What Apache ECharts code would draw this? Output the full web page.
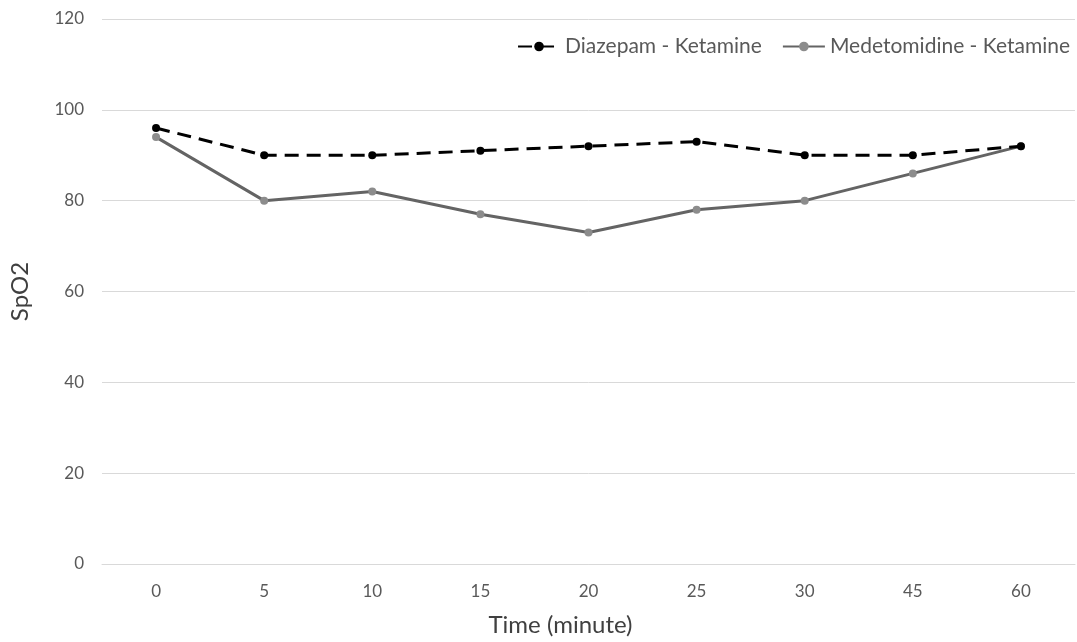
<!DOCTYPE html>
<html>
<head>
<meta charset="utf-8">
<script src="https://cdn.jsdelivr.net/npm/echarts@6/dist/echarts.min.js"></script>
<style>
html,body{margin:0;padding:0;background:#fff;}
#chart{width:1077px;height:642px;}
</style>
</head>
<body>
<div id="chart"></div>
<script>
// Time points (minutes) and SpO2 readings for each anaesthetic protocol
const timePoints = ['0', '5', '10', '15', '20', '25', '30', '45', '60'];
const diazepamKetamine = [96, 90, 90, 91, 92, 93, 90, 90, 92];
const medetomidineKetamine = [94, 80, 82, 77, 73, 78, 80, 86, 92];
const seriesNames = ['Diazepam - Ketamine', 'Medetomidine - Ketamine'];

const fontFamily = 'Lato, "Open Sans", sans-serif';
const chart = echarts.init(document.getElementById('chart'));

chart.setOption({
  animation: false,
  backgroundColor: '#fff',
  textStyle: { fontFamily: fontFamily },
  legend: {
    top: 31,
    right: 2,
    itemWidth: 42,
    itemHeight: 12,
    itemGap: 20,
    textStyle: { color: '#595959', fontSize: 21, fontFamily: fontFamily },
    data: seriesNames
  },
  grid: { left: 101, right: 2, top: 19, bottom: 76 },
  xAxis: {
    type: 'category',
    data: timePoints,
    boundaryGap: true,
    name: 'Time (minute)',
    nameLocation: 'middle',
    nameGap: 49,
    // title sits a little left of the plot centre
    nameTextStyle: { color: '#404040', fontSize: 24, fontFamily: fontFamily, padding: [0, 56, 0, 0] },
    axisLine: { lineStyle: { color: '#d9d9d9', width: 1 } },
    axisTick: { show: false },
    axisLabel: { color: '#595959', fontSize: 17, margin: 19, fontFamily: fontFamily }
  },
  yAxis: {
    type: 'value',
    min: 0,
    max: 120,
    interval: 20,
    name: 'SpO2',
    nameLocation: 'middle',
    nameGap: 70,
    nameTextStyle: { color: '#404040', fontSize: 24, fontFamily: fontFamily },
    axisLine: { show: false },
    axisTick: { show: false },
    axisLabel: { color: '#595959', fontSize: 17, margin: 18, fontFamily: fontFamily },
    splitLine: { lineStyle: { color: '#d9d9d9', width: 1 } }
  },
  series: [
    {
      name: seriesNames[0],
      type: 'line',
      data: diazepamKetamine,
      symbol: 'circle',
      symbolSize: 8,
      color: '#000',
      lineStyle: { color: '#000', width: 3, type: [14, 8] },
      itemStyle: { color: '#000' },
      z: 3
    },
    {
      name: seriesNames[1],
      type: 'line',
      data: medetomidineKetamine,
      symbol: 'circle',
      symbolSize: 8,
      color: '#646464',
      lineStyle: { color: '#646464', width: 3 },
      itemStyle: { color: '#8c8c8c' },
      z: 2
    }
  ]
});
</script>
</body>
</html>
